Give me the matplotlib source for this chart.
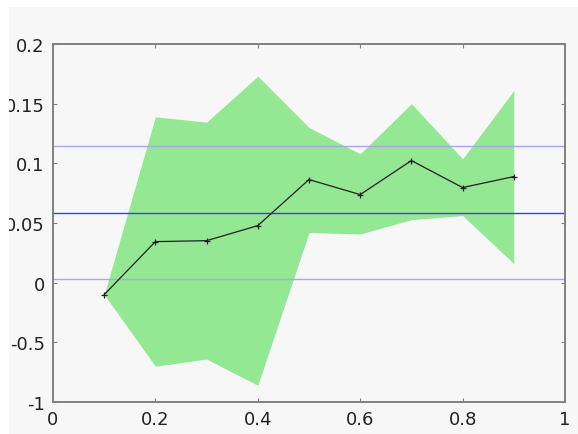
import numpy as np
import matplotlib
matplotlib.use("Agg")
import matplotlib.pyplot as plt
from matplotlib.patches import Rectangle

# mean curve and its spread
x = [0.1, 0.2, 0.3, 0.4, 0.5, 0.6, 0.7, 0.8, 0.9]
mean = [-0.1, 0.0344, 0.0352, 0.0478, 0.0864, 0.0738, 0.1023, 0.0797, 0.0889]
upper = [-0.1, 0.139, 0.1345, 0.173, 0.130, 0.108, 0.150, 0.1038, 0.161]
lower = [-0.1, -0.70, -0.64, -0.86, 0.042, 0.0408, 0.0528, 0.0562, 0.016]

# reference level and band
ref_mean = 0.0587
ref_band = 0.056

yticks = [-1, -0.5, 0, 0.05, 0.1, 0.15, 0.2]
ytick_labels = ["-1", "-0.5", "0", "0.05", "0.1", "0.15", "0.2"]
xticks = [0, 0.2, 0.4, 0.6, 0.8, 1]
xtick_labels = ["0", "0.2", "0.4", "0.6", "0.8", "1"]


# piecewise linear y-axis: positive part stretched 10x
def fwd(y):
    y = np.asarray(y, dtype=float)
    return np.where(y >= 0, y / 0.05, y / 0.5)


def inv(v):
    v = np.asarray(v, dtype=float)
    return np.where(v >= 0, v * 0.05, v * 0.5)


W, H = 578, 435
bg = "#f7f7f7"
fig = plt.figure(figsize=(W / 100, H / 100), dpi=100, facecolor=bg)
ax = fig.add_axes([53 / W, 1 - 403 / H, 512 / W, 358 / H])
ax.set_facecolor(bg)
ax.set_yscale("function", functions=(fwd, inv))

ax.fill_between(x, lower, upper, color="#94e894", lw=0, zorder=1)
ax.axhline(ref_mean, color="#3c3cf0", lw=1.0, zorder=2)
ax.axhline(ref_mean + ref_band, color="#a8a8e8", lw=1.0, zorder=2)
ax.axhline(ref_mean - ref_band, color="#a8a8e8", lw=1.0, zorder=2)
ax.plot(x, mean, color="#202020", lw=0.9, marker="+", ms=4, mew=0.9, zorder=3)

ax.set_xlim(0, 1)
ax.set_ylim(-1, 0.2)
ax.set_xticks(xticks)
ax.set_xticklabels(xtick_labels)
ax.set_yticks(yticks)
ax.set_yticklabels(ytick_labels)
ax.minorticks_off()

for s in ax.spines.values():
    s.set_color("#808080")
    s.set_linewidth(1.4)
ax.tick_params(direction="in", length=3, width=0.8, color="#808080",
               labelsize=13, labelcolor="#222222", top=True, right=True)
ax.tick_params(axis="y", pad=6)
ax.tick_params(axis="x", pad=6)

# white margin on the left and top edges, drawn over the tick labels
fig.add_artist(Rectangle((0, 0), 9 / W, 1, transform=fig.transFigure,
                         facecolor="white", lw=0, zorder=10))
fig.add_artist(Rectangle((0, 1 - 8 / H), 1, 8 / H, transform=fig.transFigure,
                         facecolor="white", lw=0, zorder=10))

fig.savefig("out.png", dpi=100, facecolor=bg)
